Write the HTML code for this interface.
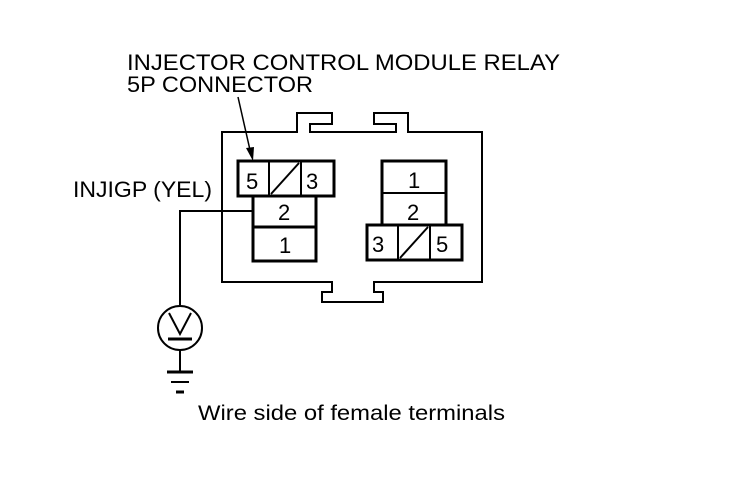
<!DOCTYPE html>
<html><head><style>html,body{margin:0;padding:0;background:#fff;}svg{display:block}</style></head>
<body>
<svg width="736" height="480" viewBox="0 0 736 480" xmlns="http://www.w3.org/2000/svg" font-family="Liberation Sans, Arial, sans-serif" fill="none" stroke="#000">
<g stroke-width="2">
<path d="M222,132 H297 V113 H332 V124 H310 V132 H396 V124 H374 V113 H408 V132 H482 V282 H374 V292 H383 V302 H322 V292 H332 V282 H222 Z"/>
</g>
<g stroke-width="3">
<rect x="238" y="161" width="96" height="35"/>
<line x1="269" y1="161" x2="269" y2="196" stroke-width="2"/>
<line x1="301" y1="161" x2="301" y2="196" stroke-width="2"/>
<line x1="271" y1="194" x2="299" y2="163" stroke-width="2"/>
<rect x="253" y="196" width="63" height="65"/>
<line x1="253" y1="227" x2="316" y2="227"/>
<rect x="382" y="161" width="64" height="64"/>
<line x1="382" y1="193" x2="446" y2="193" stroke-width="2"/>
<rect x="367" y="225" width="95" height="35"/>
<line x1="398" y1="225" x2="398" y2="260" stroke-width="2"/>
<line x1="430" y1="225" x2="430" y2="260" stroke-width="2"/>
<line x1="400" y1="258" x2="428" y2="227" stroke-width="2"/>
</g>
<g fill="#000" stroke="none" font-size="22">
<text x="246" y="189">5</text><text x="306" y="189">3</text>
<text x="278" y="220">2</text><text x="279" y="253">1</text>
<text x="408" y="188">1</text><text x="407" y="220">2</text>
<text x="372" y="252">3</text><text x="436" y="252">5</text>
</g>
<g stroke-width="2">
<polyline points="253,211 180,211 180,305"/>
<circle cx="180" cy="328" r="22"/>
<polyline points="169,313 180,334 191,313"/>
<line x1="168" y1="339" x2="192" y2="339" stroke-width="3"/>
<line x1="180" y1="350" x2="180" y2="372"/>
<line x1="167" y1="372" x2="193" y2="372" stroke-width="3"/>
<line x1="171" y1="382" x2="189" y2="382" stroke-width="2"/>
<line x1="176" y1="392" x2="184" y2="392" stroke-width="3"/>
<line x1="238" y1="97" x2="250" y2="150" stroke-width="1.5"/>
</g>
<polygon points="246,148 254,147 253,161" fill="#000" stroke="none"/>
<g fill="#000" stroke="none">
<text x="127" y="70" font-size="22" textLength="433" lengthAdjust="spacingAndGlyphs">INJECTOR CONTROL MODULE RELAY</text>
<text x="127" y="92" font-size="22" textLength="186" lengthAdjust="spacingAndGlyphs">5P CONNECTOR</text>
<text x="73" y="197" font-size="22" textLength="139" lengthAdjust="spacingAndGlyphs">INJIGP (YEL)</text>
<text x="198" y="420" font-size="21" textLength="307" lengthAdjust="spacingAndGlyphs">Wire side of female terminals</text>
</g>
</svg>
</body></html>
